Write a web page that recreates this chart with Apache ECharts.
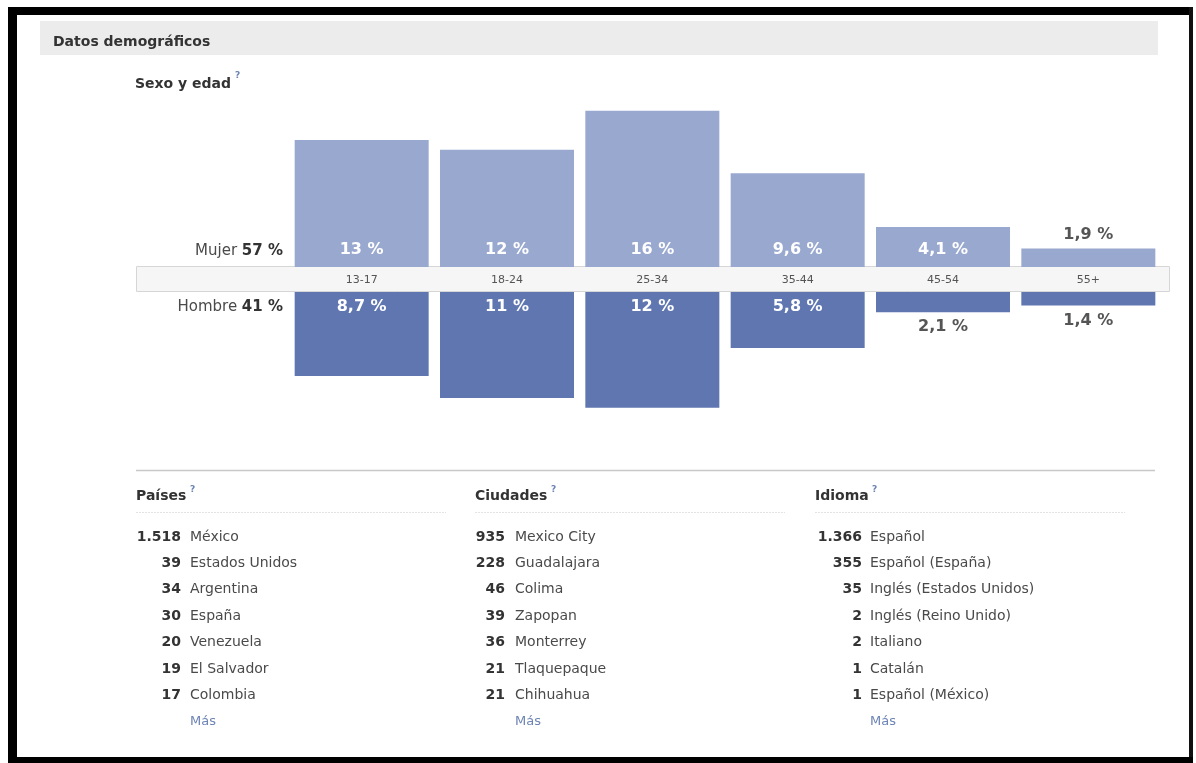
<!DOCTYPE html>
<html>
<head>
<meta charset="utf-8">
<script src="https://cdn.jsdelivr.net/npm/echarts@6/dist/echarts.min.js"></script>
<style>
html, body { margin: 0; background: #fff; }
#chart { width: 1196px; height: 763px; }
</style>
</head>
<body>
<div id="chart"></div>
<script>
// Sexo y edad
const ageGroups = ['13-17', '18-24', '25-34', '35-44', '45-54', '55+'];
const mujerPct = [13, 12, 16, 9.6, 4.1, 1.9];
const hombrePct = [8.7, 11, 12, 5.8, 2.1, 1.4];
const mujerTotal = 57;
const hombreTotal = 41;

// listas
const paisesCount = [1518, 39, 34, 30, 20, 19, 17];
const paisesName = ['México', 'Estados Unidos', 'Argentina', 'España', 'Venezuela', 'El Salvador', 'Colombia'];
const ciudadesCount = [935, 228, 46, 39, 36, 21, 21];
const ciudadesName = ['Mexico City', 'Guadalajara', 'Colima', 'Zapopan', 'Monterrey', 'Tlaquepaque', 'Chihuahua'];
const idiomaCount = [1366, 355, 35, 2, 2, 1, 1];
const idiomaName = ['Español', 'Español (España)', 'Inglés (Estados Unidos)', 'Inglés (Reino Unido)', 'Italiano', 'Catalán', 'Español (México)'];

const FONT = '"DejaVu Sans", Verdana, sans-serif';
const LINK = '#6d84b4';

const fmtPct = v => String(v).replace('.', ',') + ' %';
const fmtNum = n => String(n).replace(/\B(?=(\d{3})+(?!\d))/g, '.');

const chart = echarts.init(document.getElementById('chart'));

function txt(text, x, y, size, opts) {
    opts = opts || {};
    return {
        type: 'text', x: x, y: y, silent: true,
        style: {
            text: text, fill: opts.fill || '#333',
            font: (opts.weight || 'normal') + ' ' + size + 'px ' + FONT,
            textAlign: opts.align || 'left', textVerticalAlign: 'middle'
        }
    };
}

function listBlock(title, counts, names, headX, numRight, nameLeft, qX) {
    const els = [];
    els.push(txt(title, headX, 496, 14, { weight: 'bold' }));
    els.push(txt('?', qX, 490, 9, { weight: 'bold', fill: LINK }));
    els.push({
        type: 'line', silent: true,
        shape: { x1: headX, y1: 512.5, x2: headX + 310, y2: 512.5 },
        style: { stroke: '#e3e3e3', lineWidth: 1, lineDash: [2, 1] }
    });
    counts.forEach((c, i) => {
        const y = 537 + i * 26.4;
        els.push(txt(fmtNum(c), numRight, y, 14, { weight: 'bold', align: 'right' }));
        els.push(txt(names[i], nameLeft, y, 14, { fill: '#4a4a4a' }));
    });
    els.push(txt('Más', nameLeft, 537 + counts.length * 26.4, 13, { fill: LINK }));
    return els;
}

function sideLabel(word, total, y) {
    return {
        type: 'text', x: 283, y: y, silent: true,
        style: {
            text: '{a|' + word + ' }{b|' + total + ' %}', textAlign: 'right', textVerticalAlign: 'middle',
            rich: {
                a: { font: 'normal 15px ' + FONT, fill: '#4a4a4a', color: '#4a4a4a' },
                b: { font: 'bold 15px ' + FONT, fill: '#333', color: '#333' }
            }
        }
    };
}

const graphics = [
    // marco negro
    { type: 'rect', silent: true, shape: { x: 8, y: 7, width: 1185, height: 8 }, style: { fill: '#000' } },
    { type: 'rect', silent: true, shape: { x: 8, y: 7, width: 9, height: 756 }, style: { fill: '#000' } },
    { type: 'rect', silent: true, shape: { x: 1189, y: 7, width: 4, height: 756 }, style: { fill: '#111' } },
    { type: 'rect', silent: true, shape: { x: 8, y: 757, width: 1185, height: 6 }, style: { fill: '#000' } },
    // cabecera
    { type: 'rect', silent: true, shape: { x: 40, y: 21, width: 1118, height: 34 }, style: { fill: '#ececec' } },
    txt('Datos demográficos', 53, 42, 14, { weight: 'bold' }),
    txt('Sexo y edad', 135, 84, 14, { weight: 'bold' }),
    txt('?', 235, 76, 9, { weight: 'bold', fill: LINK }),
    // banda de edades
    { type: 'rect', silent: true, z: -1, shape: { x: 136.5, y: 266.5, width: 1033, height: 25 },
      style: { fill: '#f6f6f6', stroke: '#d6d6d6', lineWidth: 1 } },
    sideLabel('Mujer', mujerTotal, 251),
    sideLabel('Hombre', hombreTotal, 307),
    // separador
    { type: 'line', silent: true, shape: { x1: 136, y1: 470.5, x2: 1155, y2: 470.5 }, style: { stroke: '#c8c8c8', lineWidth: 1.5 } }
];

const lists = [].concat(
    listBlock('Países', paisesCount, paisesName, 136, 181, 190, 190),
    listBlock('Ciudades', ciudadesCount, ciudadesName, 475, 505, 515, 551),
    listBlock('Idioma', idiomaCount, idiomaName, 815, 862, 870, 872)
);

const barLabel = {
    show: true, fontFamily: FONT, fontWeight: 'bold', fontSize: 16,
    color: '#fff', formatter: p => fmtPct(p.value)
};

chart.setOption({
    animation: false,
    textStyle: { fontFamily: FONT },
    grid: [
        { left: 289, width: 872, top: 101, height: 166 },
        { left: 289, width: 872, top: 292, height: 164 }
    ],
    xAxis: [
        {
            type: 'category', gridIndex: 0, data: ageGroups,
            axisLine: { show: false }, axisTick: { show: false },
            axisLabel: { margin: 8, fontSize: 11, color: '#555', fontFamily: FONT }
        },
        { type: 'category', gridIndex: 1, data: ageGroups, show: false }
    ],
    yAxis: [
        { type: 'value', gridIndex: 0, min: 0, max: 17, show: false },
        { type: 'value', gridIndex: 1, min: 0, max: 17, inverse: true, show: false }
    ],
    series: [
        {
            name: 'Mujer', type: 'bar', xAxisIndex: 0, yAxisIndex: 0, barWidth: 134,
            itemStyle: { color: '#99a8cf' },
            label: Object.assign({}, barLabel, { position: 'insideBottom', distance: 9 }),
            data: mujerPct.map(v => v < 3
                ? { value: v, label: { position: 'top', distance: 6, color: '#555' } }
                : v)
        },
        {
            name: 'Hombre', type: 'bar', xAxisIndex: 1, yAxisIndex: 1, barWidth: 134,
            itemStyle: { color: '#5f76b1' },
            label: Object.assign({}, barLabel, { position: 'insideTop', distance: 7 }),
            data: hombrePct.map(v => v < 3
                ? { value: v, label: { position: 'bottom', distance: 7, color: '#555' } }
                : v)
        }
    ],
    graphic: { elements: graphics.concat(lists) }
});
</script>
</body>
</html>
